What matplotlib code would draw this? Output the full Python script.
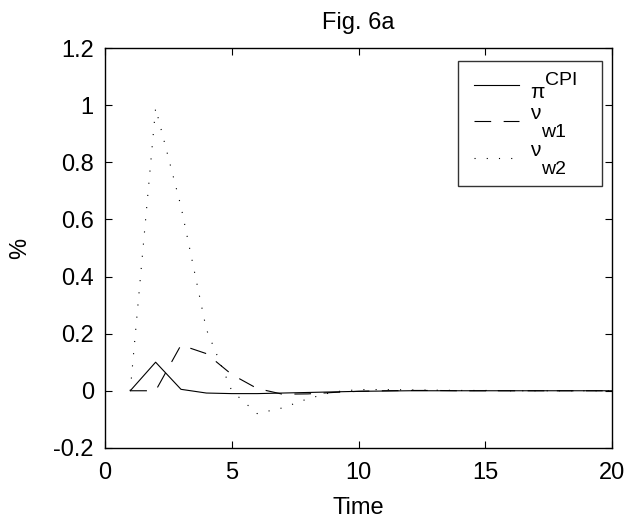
import matplotlib
matplotlib.use("Agg")
import matplotlib.pyplot as plt
import numpy as np

# impulse responses, t = 1..20
time = np.arange(1, 21)
pi_cpi = [0.0, 0.10, 0.005, -0.008, -0.010, -0.010, -0.008, -0.006, -0.004, -0.002,
          -0.001, 0.0, 0.0, 0.0, 0.0, 0.0, 0.0, 0.0, 0.0, 0.0]
nu_w1 = [0.0, 0.0, 0.16, 0.13, 0.057, 0.008, -0.012, -0.011, -0.006, -0.002,
         0.0, 0.001, 0.001, 0.0, 0.0, 0.0, 0.0, 0.0, 0.0, 0.0]
nu_w2 = [0.0, 0.99, 0.645, 0.215, 0.0, -0.08, -0.06, -0.028, -0.004, 0.004,
         0.004, 0.003, 0.002, 0.001, 0.001, 0.0, 0.0, 0.0, 0.0, 0.0]

# legend: greek symbol + script part (super for CPI, sub for the w's)
symbols = ["\u03c0", "\u03bd", "\u03bd"]
scripts = ["CPI", "w1", "w2"]

plt.rcParams["font.family"] = ["Liberation Sans", "DejaVu Sans"]
plt.rcParams["lines.scale_dashes"] = False

fig = plt.figure(figsize=(6.28, 5.22), dpi=100)
ax = fig.add_axes([0.167, 0.142, 0.808, 0.766])

lw = 0.8
h1, = ax.plot(time, pi_cpi, color="black", lw=lw)
h2, = ax.plot(time, nu_w1, color="black", lw=lw, dashes=(12, 9))
h3, = ax.plot(time, nu_w2, color="black", lw=lw, dashes=(0.8, 8))

ax.set_xlim(0, 20)
ax.set_ylim(-0.2, 1.2)
ax.set_xticks([0, 5, 10, 15, 20])
ax.set_yticks([-0.2, 0, 0.2, 0.4, 0.6, 0.8, 1.0, 1.2])
ax.set_yticklabels(["-0.2", "0", "0.2", "0.4", "0.6", "0.8", "1", "1.2"])
ax.tick_params(direction="in", length=5, width=0.8, top=True, right=True,
               labelsize=17)
ax.tick_params(axis="x", pad=10.5)
ax.tick_params(axis="y", pad=8)
for sp in ax.spines.values():
    sp.set_linewidth(1.0)

ax.set_title("Fig. 6a", fontsize=17, pad=14)
ax.set_xlabel("Time", fontsize=17, labelpad=9)
ax.set_ylabel("%", fontsize=17, labelpad=16)

leg = ax.legend([h1, h2, h3], symbols, loc="upper left",
                bbox_to_anchor=(0.696, 0.5, 0.284, 0.4675), mode="expand",
                borderaxespad=0, fontsize=15, handlelength=2.15,
                handletextpad=0.53, labelspacing=0.86, borderpad=0.76,
                frameon=True, fancybox=False)
leg.get_frame().set_edgecolor("black")
leg.get_frame().set_linewidth(1.0)

# MATLAB puts the greek letter off-centre from the sample line
shifts = [-6, 10, 10]
offsets = [12.2, -10.5, -10]
for txt, sh, s, off in zip(leg.get_texts(), shifts, scripts, offsets):
    txt.set_y(sh)
    ax.annotate(s, xy=(1, 0), xycoords=txt, xytext=(0.5, off),
                textcoords="offset points", fontsize=14,
                ha="left", va="baseline", zorder=6)

fig.savefig("out.png", dpi=100)
